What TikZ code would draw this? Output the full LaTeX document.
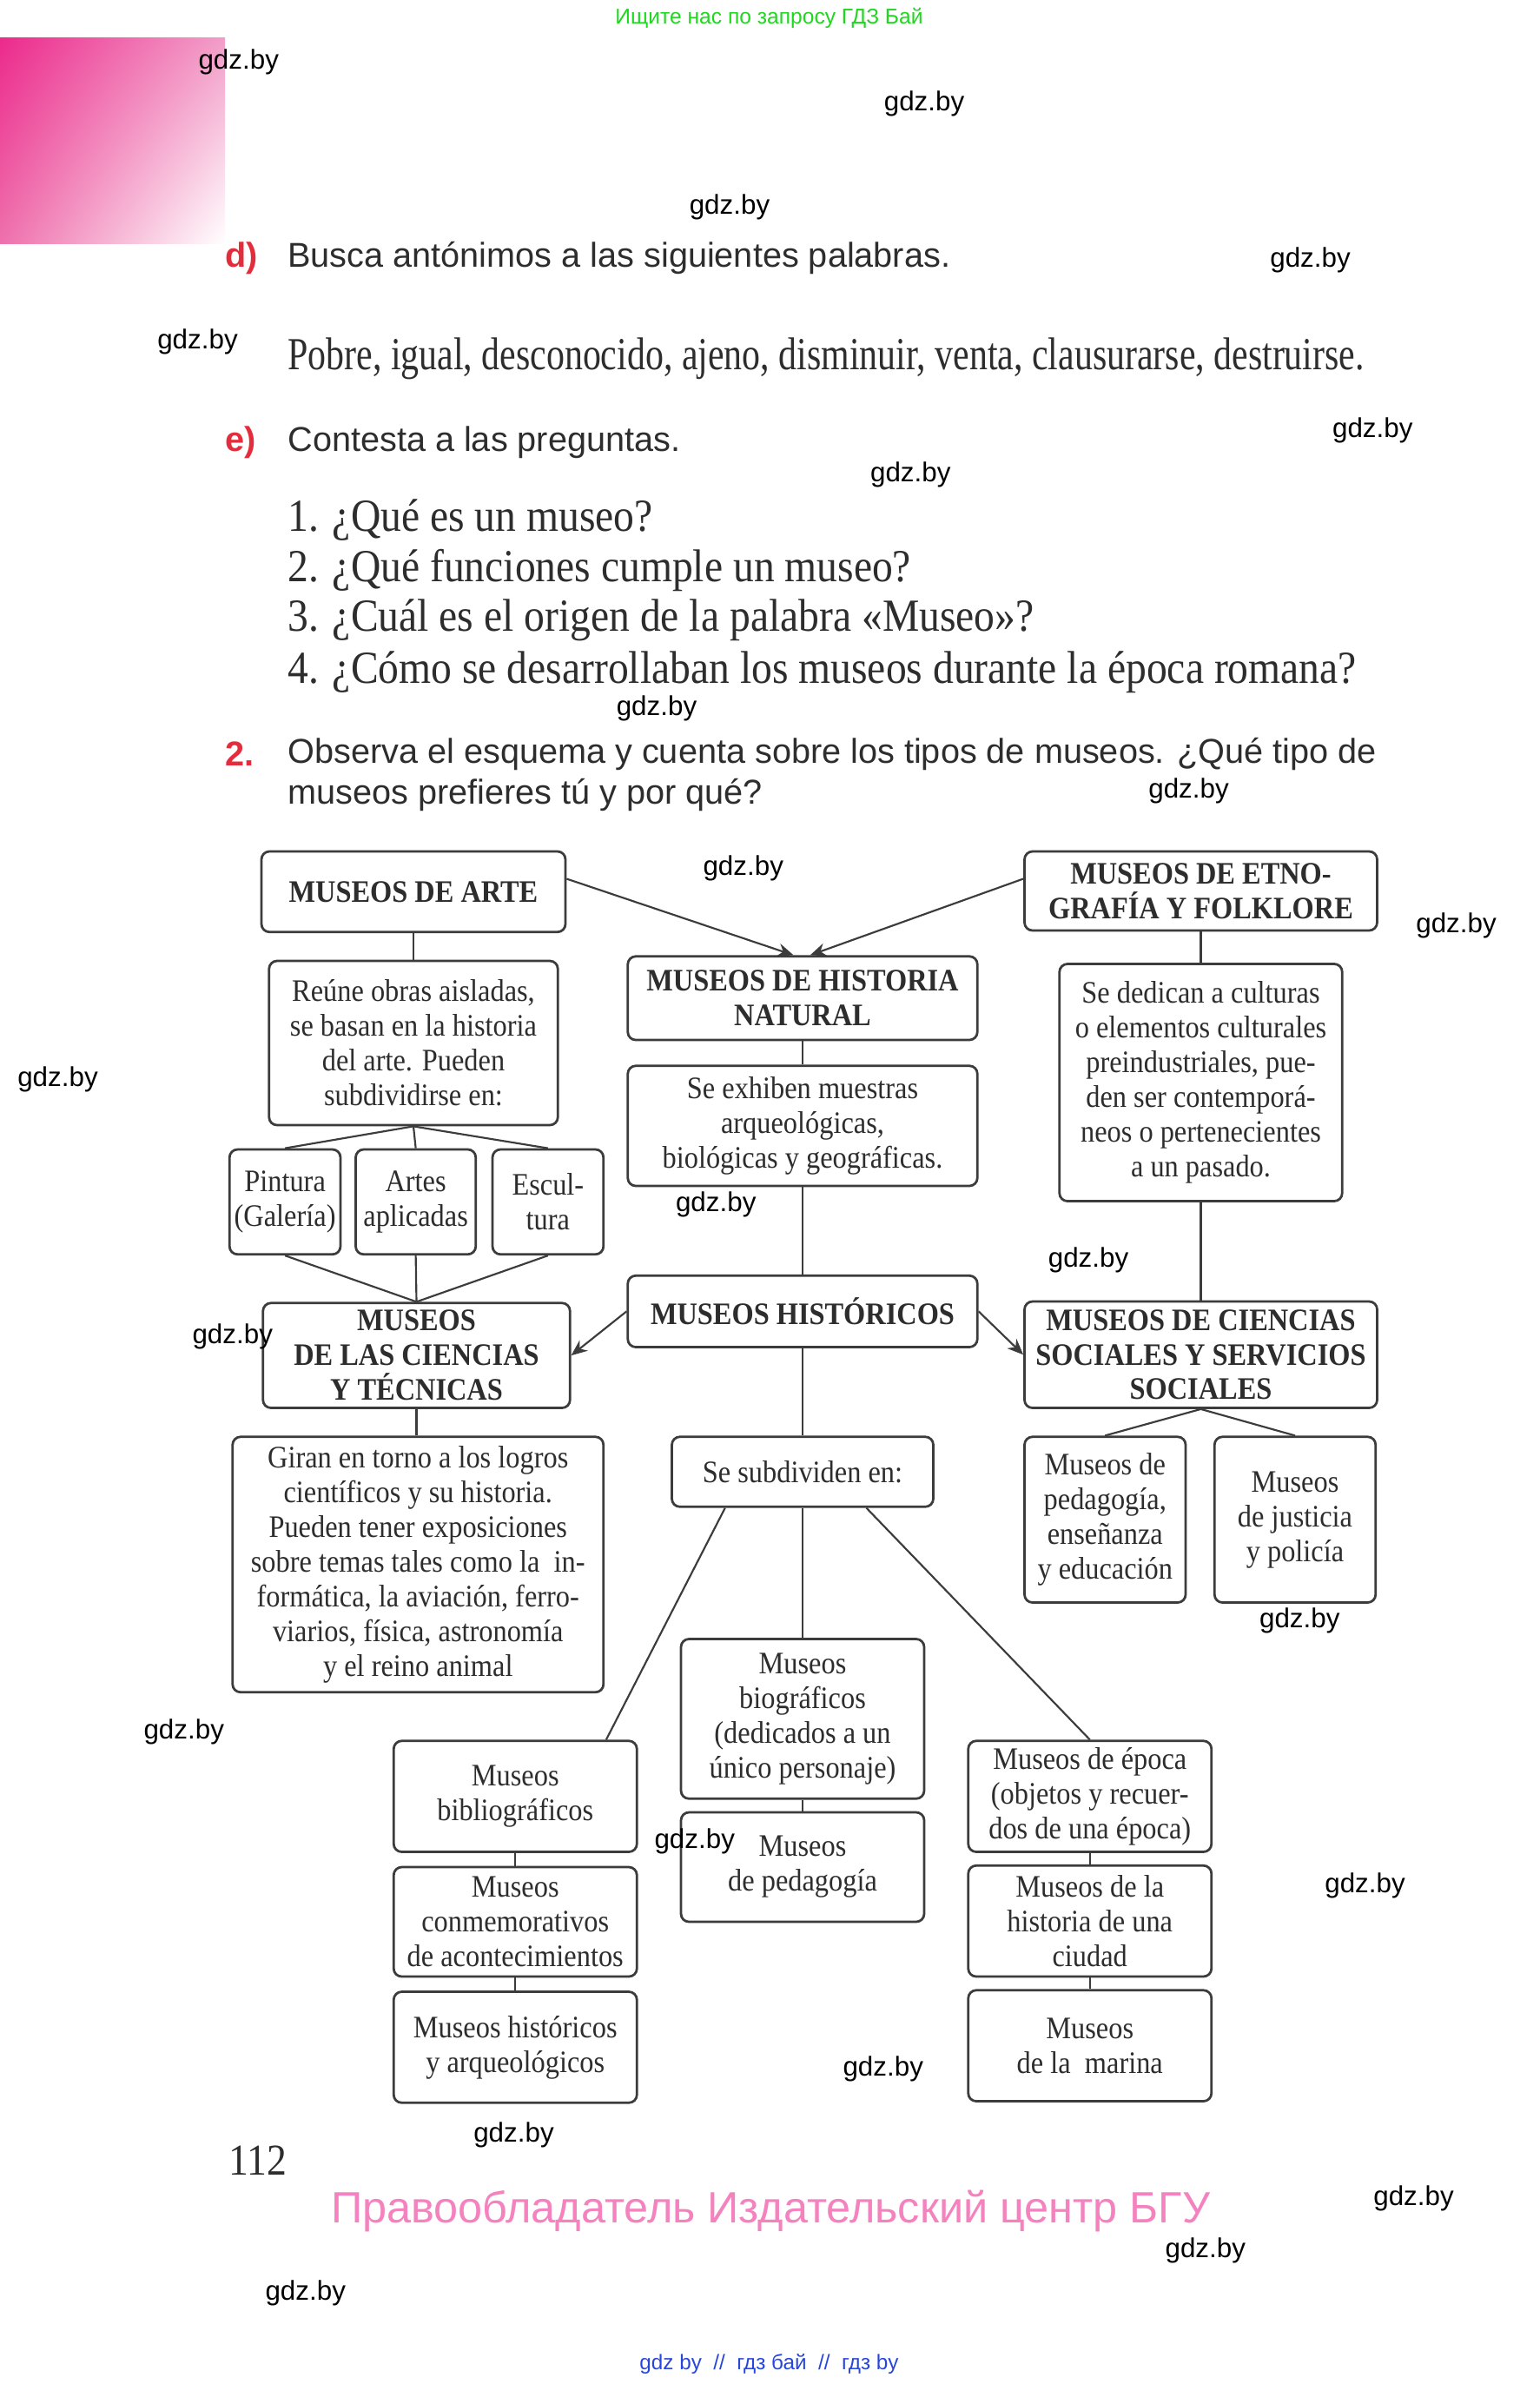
\documentclass[tikz,border=0pt]{standalone}
\usepackage{fontspec}
\setmainfont{Liberation Serif}
\newfontfamily\libro{Liberation Serif}[FakeStretch=0.9]
\newfontfamily\palo{Liberation Sans}
\usepackage{xcolor}
\definecolor{tinta}{RGB}{45,45,45}
\definecolor{trazo}{RGB}{60,60,60}
\definecolor{rojo}{RGB}{228,45,60}
\definecolor{verde}{RGB}{30,215,30}
\definecolor{rosa}{RGB}{243,130,190}
\definecolor{azul}{RGB}{40,70,220}
\definecolor{fucsia}{RGB}{236,42,140}
\definecolor{fucsiamedio}{RGB}{238,112,172}
\definecolor{fucsiaclaro}{RGB}{242,158,200}
\usetikzlibrary{arrows.meta,shadings}
\newcommand{\fcaja}{\libro\fontsize{11.7}{13}\selectfont}
\newcommand{\fpreg}{\libro\fontsize{17.2}{19}\selectfont}
\newcommand{\fsans}{\palo\fontsize{12.9}{15}\selectfont}
\tikzset{
  caja/.style={draw=trazo, line width=0.9pt, rounded corners=3pt, fill=white,
    align=center, inner sep=1pt, font=\fcaja, text=tinta},
  titulo/.style={caja, font=\fcaja\bfseries},
  tam/.style 2 args={minimum width=#1*0.02cm, minimum height=#2*0.02cm},
  enlace/.style={draw=trazo, line width=0.7pt},
  flecha/.style={enlace, -{Stealth[length=6pt,width=5pt]}},
  texto/.style={anchor=west, inner sep=0pt, text=tinta},
  marca/.style={font=\palo\fontsize{10.2}{12}\selectfont, text=black, inner sep=0pt},
}
\begin{document}
\begin{tikzpicture}[x=0.02cm, y=-0.02cm]
  \useasboundingbox (0,0) rectangle (1013,1568);
  %% cabecera
  \node[text=verde, font=\palo\fontsize{8}{9}\selectfont] (cabecera) at (506,12) {Ищите нас по запросу ГДЗ Бай};
  \shade[upper left=fucsia, upper right=fucsiaclaro, lower left=fucsiamedio, lower right=white]
    (0,25) rectangle (148,160);
  %% ejercicio d
  \node[texto, text=rojo, font=\fsans\bfseries] (letraD) at (148,170) {d)};
  \node[texto, font=\fsans] (enunciadoD) at (189,170) {Busca antónimos a las siguientes palabras.};
  \node[texto, font=\fpreg] (palabras) at (189,236) {\scalebox{0.88}[1]{Pobre, igual, desconocido, ajeno, disminuir, venta, clausurarse, destruirse.}};
  %% ejercicio e
  \node[texto, text=rojo, font=\fsans\bfseries] (letraE) at (148,291) {e)};
  \node[texto, font=\fsans] (enunciadoE) at (189,291) {Contesta a las preguntas.};
  \node[texto, font=\fpreg] (preg1) at (189,342) {1. ¿Qué es un museo?};
  \node[texto, font=\fpreg] (preg2) at (189,375) {2. ¿Qué funciones cumple un museo?};
  \node[texto, font=\fpreg] (preg3) at (189,408) {3. ¿Cuál es el origen de la palabra «Museo»?};
  \node[texto, font=\fpreg] (preg4) at (189,442) {4. ¿Cómo se desarrollaban los museos durante la época romana?};
  %% ejercicio 2
  \node[texto, text=rojo, font=\fsans\bfseries] (num2) at (148,496) {2.};
  \node[texto, font=\fsans] (enunciado2a) at (189,496) {Observa el esquema y cuenta sobre los tipos de museos. ¿Qué tipo de};
  \node[texto, font=\fsans] (enunciado2b) at (189,523) {museos prefieres tú y por qué?};

  %% esquema: columna izquierda
  \node[titulo, tam={200}{53}] (arte) at (272,586.5) {MUSEOS DE ARTE};
  \node[caja, tam={190}{108}] (arteT) at (272,686) {Reúne obras aisladas,\\se basan en la historia\\del arte. Pueden\\subdividirse en:};
  \node[caja, tam={73}{69}] (pintura) at (187.5,790.5) {Pintura\\(Galería)};
  \node[caja, tam={79}{69}] (artes) at (273.5,790.5) {Artes\\aplicadas};
  \node[caja, tam={73}{69}] (escultura) at (360.5,790.5) {Escul-\\tura};
  \node[titulo, tam={202}{69}] (ciencias) at (274,891.5) {MUSEOS\\DE LAS CIENCIAS\\Y TÉCNICAS};
  \node[caja, tam={244}{168}] (cienciasT) at (275,1029) {Giran en torno a los logros\\científicos y su historia.\\Pueden tener exposiciones\\sobre temas tales como la\ \ in-\\formática, la aviación, ferro-\\viarios, física, astronomía\\y el reino animal};
  %% columna central
  \node[titulo, tam={230}{55}] (natural) at (528,656.5) {MUSEOS DE HISTORIA\\NATURAL};
  \node[caja, tam={230}{79}] (naturalT) at (528,740.5) {Se exhiben muestras\\arqueológicas,\\biológicas y geográficas.};
  \node[titulo, tam={230}{47}] (historicos) at (528,862.5) {MUSEOS HISTÓRICOS};
  \node[caja, tam={172}{46}] (subdiv) at (528,968) {Se subdividen en:};
  %% columna derecha
  \node[titulo, tam={232}{52}] (etno) at (790,586) {MUSEOS DE ETNO-\\GRAFÍA Y FOLKLORE};
  \node[caja, tam={186}{156}] (etnoT) at (790,712) {Se dedican a culturas\\o elementos culturales\\preindustriales, pue-\\den ser contemporá-\\neos o pertenecientes\\a un pasado.};
  \node[titulo, tam={232}{70}] (sociales) at (790,891) {MUSEOS DE CIENCIAS\\SOCIALES Y SERVICIOS\\SOCIALES};
  \node[caja, tam={106}{109}] (pedag) at (727,999.5) {Museos de\\pedagogía,\\enseñanza\\y educación};
  \node[caja, tam={106}{109}] (justicia) at (852,999.5) {Museos\\de justicia\\y policía};
  %% subdivisiones de los museos historicos
  \node[caja, tam={160}{73}] (biblio) at (339,1181.5) {Museos\\bibliográficos};
  \node[caja, tam={160}{72}] (conmem) at (339,1264) {Museos\\conmemorativos\\de acontecimientos};
  \node[caja, tam={160}{73}] (arqueo) at (339,1346.5) {Museos históricos\\y arqueológicos};
  \node[caja, tam={160}{105}] (biogr) at (528,1130.5) {Museos\\biográficos\\(dedicados a un\\único personaje)};
  \node[caja, tam={160}{72}] (pedag2) at (528,1228) {Museos\\de pedagogía};
  \node[caja, tam={160}{73}] (epoca) at (717,1181.5) {Museos de época\\(objetos y recuer-\\dos de una época)};
  \node[caja, tam={160}{73}] (ciudad) at (717,1263.5) {Museos de la\\historia de una\\ciudad};
  \node[caja, tam={160}{73}] (marina) at (717,1345.5) {Museos\\de la\ \ marina};

  %% enlaces
  \draw[enlace] (arte) -- (arteT);
  \foreach \n in {pintura,artes,escultura}{
    \draw[enlace] (arteT.south) -- (\n.north);
    \draw[enlace] (\n.south) -- (ciencias.north);
  }
  \draw[enlace] (ciencias.south) -- (ciencias.south |- cienciasT.north);
  \draw[flecha] ([yshift=0.17cm]arte.east) -- ([xshift=-0.12cm]natural.north);
  \draw[flecha] ([yshift=0.16cm]etno.west) -- ([xshift=0.1cm]natural.north);
  \draw[enlace] (natural) -- (naturalT);
  \draw[enlace] (naturalT) -- (historicos);
  \draw[flecha] (historicos.west) -- (ciencias.east);
  \draw[flecha] (historicos.east) -- (sociales.west);
  \draw[enlace] (etno) -- (etnoT);
  \draw[enlace] (etnoT) -- (sociales);
  \draw[enlace] (sociales.south) -- (pedag.north);
  \draw[enlace] (sociales.south) -- (justicia.north);
  \draw[enlace] (historicos) -- (subdiv);
  \draw[enlace] ([xshift=-1.02cm]subdiv.south) -- ([xshift=-0.42cm]biblio.north east);
  \draw[enlace] (subdiv) -- (biogr);
  \draw[enlace] ([xshift=0.84cm]subdiv.south) -- (epoca.north);
  \draw[enlace] (biblio) -- (conmem);
  \draw[enlace] (conmem) -- (arqueo);
  \draw[enlace] (biogr) -- (pedag2);
  \draw[enlace] (epoca) -- (ciudad);
  \draw[enlace] (ciudad) -- (marina);

  %% pie de pagina
  \node[texto, font=\libro\fontsize{16.5}{18}\selectfont] (pagina) at (150,1421) {112};
  \node[text=rosa, font=\palo\fontsize{16.4}{18}\selectfont] (derechos) at (507,1454) {Правообладатель Издательский центр БГУ};
  \node[text=azul, font=\palo\fontsize{7.9}{9}\selectfont] (enlaces) at (506,1555) {gdz by\ \ //\ \ гдз бай\ \ //\ \ гдз by};

  %% marcas de agua
  \foreach \x/\y [count=\i] in {157/41,608/68,480/136,862/171,130/225,903/283,599/312,
      432/466,782/520,489/571,958/609,38/710,471/792,716/829,153/879,855/1066,
      121/1139,457/1211,898/1240,581/1361,338/1404,930/1446,793/1480,201/1508}
    \node[marca] (gdz\i) at (\x,\y) {gdz.by};
\end{tikzpicture}
\end{document}
